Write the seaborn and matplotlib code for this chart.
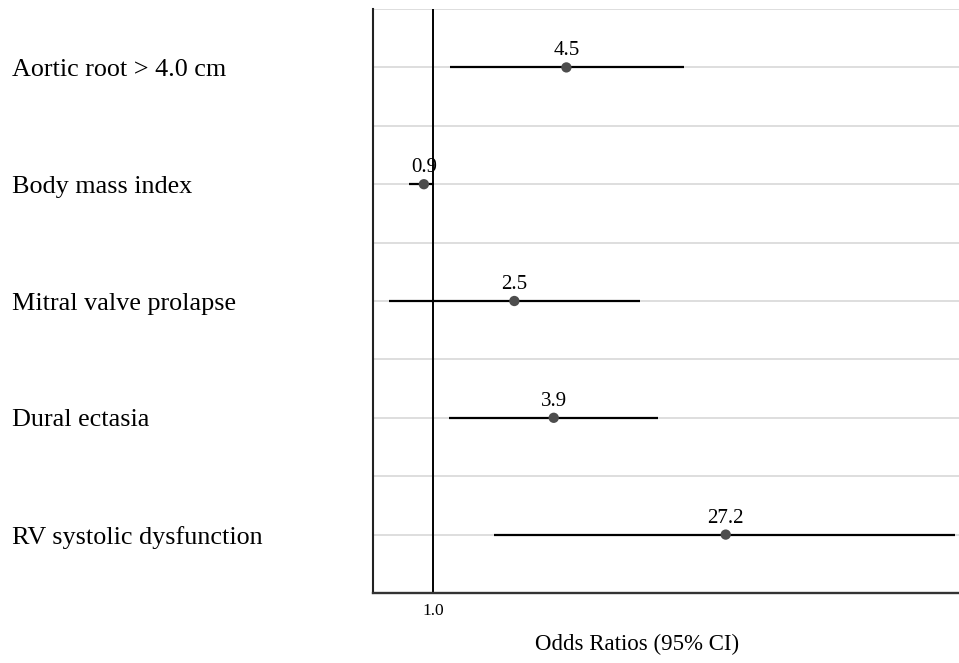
# Forest plot of odds ratios (95% CI)

import numpy as np
import pandas as pd
import matplotlib
matplotlib.use('Agg')
import matplotlib.pyplot as plt
import seaborn as sns

labels = ['Aortic root > 4.0 cm', 'Body mass index', 'Mitral valve prolapse',
          'Dural ectasia', 'RV systolic dysfunction']
odds_ratio = [4.5, 0.9, 2.5, 3.9, 27.2]
ci_low = [1.21, 0.76, 0.61, 1.19, 1.99]
ci_high = [16.9, 1.01, 10.3, 12.7, 363.0]

df = pd.DataFrame({'label': labels, 'OR': odds_ratio,
                   'lo': ci_low, 'hi': ci_high})
df['pos'] = np.arange(len(df))

sns.set_style('white')
plt.rcParams['font.family'] = ['Liberation Serif', 'DejaVu Serif']
plt.rcParams['text.color'] = 'black'
plt.rcParams['xtick.color'] = 'black'
plt.rcParams['ytick.color'] = 'black'
plt.rcParams['axes.labelcolor'] = 'black'

fig = plt.figure(figsize=(9.59, 6.63), dpi=100)
ax = fig.add_axes([0.389, 0.1056, 0.611, 0.8808])

# gridlines at each row and between rows
ax.set_yticks(df['pos'])
ax.set_yticks(np.arange(-0.5, len(df), 1.0), minor=True)
ax.grid(axis='y', which='both', color='#dedede', linewidth=1.4, zorder=0)
ax.tick_params(axis='y', which='minor', length=0)

ax.axvline(1.0, color='black', linewidth=1.4, zorder=1)
ax.hlines(df['pos'], df['lo'], df['hi'], color='black', linewidth=1.6, zorder=2)
sns.scatterplot(data=df, x='OR', y='pos', ax=ax, color='#4d4d4d', s=55,
                edgecolor='none', zorder=3, legend=False)

for _, r in df.iterrows():
    ax.annotate(f"{r['OR']:.1f}", (r['OR'], r['pos']), xytext=(0, 5),
                textcoords='offset points', ha='center', va='bottom',
                fontsize=15)

ax.set_xscale('log')
ax.set_xlim(0.507, 379)
ax.set_ylim(len(df) - 0.5, -0.5)
ax.set_xticks([1.0])
ax.set_xticklabels(['1.0'])
ax.xaxis.set_minor_locator(matplotlib.ticker.NullLocator())
ax.tick_params(axis='x', length=0, pad=7, labelsize=12.5)

ax.set_yticklabels(df['label'], fontsize=18.8, ha='left')
ax.tick_params(axis='y', which='major', length=0, pad=260)

ax.set_xlabel('Odds Ratios (95% CI)', fontsize=16.5)
ax.xaxis.set_label_coords(0.451, -0.070)
ax.set_ylabel('')

for side in ['top', 'right']:
    ax.spines[side].set_visible(False)
ax.spines['left'].set_color('#222222')
ax.spines['bottom'].set_color('#333333')
ax.spines['left'].set_linewidth(1.5)
ax.spines['bottom'].set_linewidth(1.7)

plt.savefig('out.png', dpi=100)
